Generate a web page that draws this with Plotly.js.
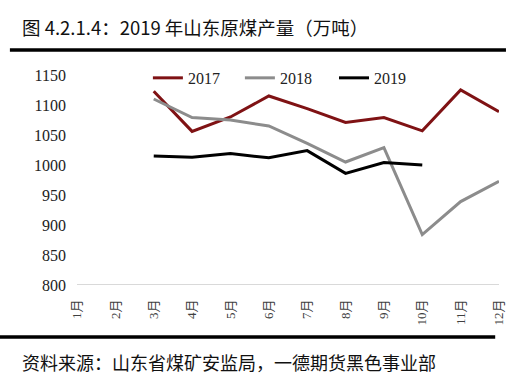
<!DOCTYPE html>
<html>
<head>
<meta charset="utf-8">
<script src="https://cdn.plot.ly/plotly-3.0.1.min.js"></script>
<style>html,body{margin:0;padding:0;background:#fff;}#chart{width:514px;height:388px;}</style>
</head>
<body>
<div id="chart"></div>
<script>
const months = ["1月","2月","3月","4月","5月","6月","7月","8月","9月","10月","11月","12月"];
const y2017 = [null, null, 1123, 1056, 1080, 1115, 1094, 1071, 1079, 1057, 1125, 1089];
const y2018 = [null, null, 1110, 1079, 1075, 1065, 1036, 1005, 1029, 884, 939, 973];
const y2019 = [null, null, 1015, 1013, 1019, 1012, 1024, 986, 1004, 1000, null, null];
const yTicks = [800, 850, 900, 950, 1000, 1050, 1100, 1150];
const titleText = "图 4.2.1.4：2019 年山东原煤产量（万吨）";
const sourceText = "资料来源：山东省煤矿安监局，一德期货黑色事业部";

const serif = "Liberation Serif, Noto Sans CJK SC, serif";
const cjk = "Noto Sans CJK SC, sans-serif";

const traces = [
  {name: "2017", legend: "legend", x: months, y: y2017, type: "scatter", mode: "lines", line: {color: "#7f1214", width: 3}},
  {name: "2018", legend: "legend2", x: months, y: y2018, type: "scatter", mode: "lines", line: {color: "#8c8c8c", width: 3}},
  {name: "2019", legend: "legend3", x: months, y: y2019, type: "scatter", mode: "lines", line: {color: "#000000", width: 3}}
];

function leg(x) {
  return {
    x: x, xanchor: "left", y: 0.986, yanchor: "middle",
    font: {family: serif, size: 16, color: "#222"},
    bgcolor: "rgba(0,0,0,0)", borderwidth: 0
  };
}

const layout = {
  width: 514, height: 388,
  paper_bgcolor: "#ffffff", plot_bgcolor: "#ffffff",
  margin: {l: 77, r: 15, t: 75, b: 103},
  showlegend: true,
  legend: leg(0.168),
  legend2: leg(0.386),
  legend3: leg(0.609),
  xaxis: {
    type: "category", showgrid: false, zeroline: false,
    showline: false, ticks: "", tickangle: -90, ticklabelstandoff: 11,
    tickfont: {family: serif, size: 13, color: "#404040"},
    fixedrange: true
  },
  yaxis: {
    range: [800, 1150], tickvals: yTicks, showgrid: false, zeroline: false,
    showline: false, ticks: "", ticklabelstandoff: 10,
    tickfont: {family: serif, size: 16, color: "#222"},
    fixedrange: true
  },
  shapes: [
    {type: "line", xref: "paper", yref: "y", x0: 0, x1: 1, y0: 800, y1: 800, line: {color: "#d9d9d9", width: 2}, layer: "below"},
    {type: "line", xref: "paper", yref: "paper", x0: -0.159, x1: 1.0165, y0: 1.119, y1: 1.119, line: {color: "#000", width: 3.5}},
    {type: "line", xref: "paper", yref: "paper", x0: -0.183, x1: 0.991, y0: -0.248, y1: -0.248, line: {color: "#000", width: 3.5}}
  ],
  annotations: [
    {text: titleText, xref: "paper", yref: "paper", x: -0.135, y: 1.229, xanchor: "left", yanchor: "middle", showarrow: false, font: {family: cjk, size: 18.5, color: "#111"}},
    {text: sourceText, xref: "paper", yref: "paper", x: -0.135, y: -0.367, xanchor: "left", yanchor: "middle", showarrow: false, font: {family: cjk, size: 18, color: "#111"}}
  ]
};

Plotly.newPlot("chart", traces, layout, {displayModeBar: false, staticPlot: true});
</script>
</body>
</html>
